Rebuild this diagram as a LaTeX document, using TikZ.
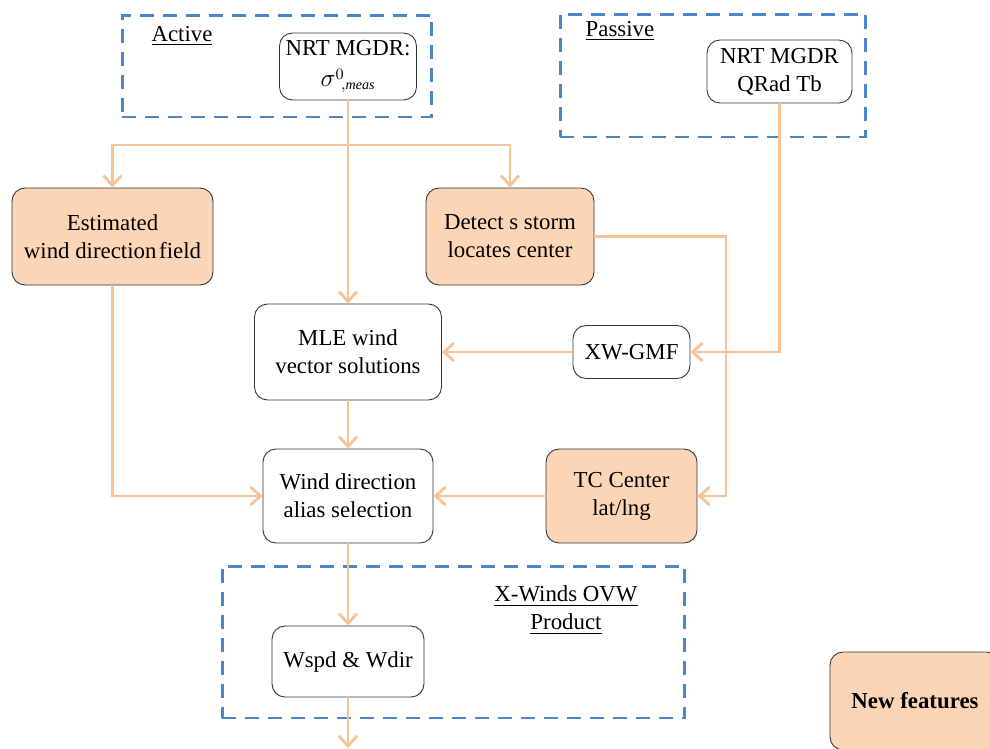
\documentclass[tikz,border=0pt]{standalone}
\usepackage{fontspec}
\setmainfont{Liberation Serif}
\usepackage{amsmath}
\usetikzlibrary{arrows,arrows.meta,positioning}
\definecolor{peachFill}{HTML}{FBD5B6}
\definecolor{peachLine}{HTML}{F8C296}
\definecolor{groupBlue}{HTML}{4A86C8}

\begin{document}
\begin{tikzpicture}
[x=0.02cm,y=-0.02cm,
box/.style={draw=black!80,line width=0.5pt,rounded corners=2.6mm,align=center,inner sep=0pt,font=\fontsize{13}{16}\selectfont},
plainBox/.style={box,fill=white},
newBox/.style={box,fill=peachFill},
groupBox/.style={draw=groupBlue,line width=1.7pt,dash pattern=on 0.28cm off 0.18cm,inner sep=0pt},
groupLabel/.style={align=center,font=\fontsize{13}{16}\selectfont},
edge/.style={draw=peachLine,line width=1.6pt},
tipEnd/.style={-{Straight Barb[length=2mm,width=3.6mm]}}]
\useasboundingbox (0,0) rectangle (990,748);
% dashed groups
\node[groupBox,minimum width=6.2cm,minimum height=2.04cm] (activeGrp) at (277,66) {};
\node[groupBox,minimum width=6.12cm,minimum height=2.46cm] (passiveGrp) at (713,75.5) {};
\node[groupBox,minimum width=9.26cm,minimum height=3.04cm] (productGrp) at (453.5,642) {};
\node[groupLabel] (activeLbl) at (182,36) {\underline{Active}};
\node[groupLabel] (passiveLbl) at (620,31) {\underline{Passive}};
\node[groupLabel] (productLbl) at (566,610) {\underline{X-Winds OVW}\\\underline{Product}};
% boxes
\node[plainBox,minimum width=2.74cm,minimum height=1.34cm] (srcAct) at (348,66.5) {NRT MGDR:\\[2pt]{\Large$\sigma$}$^{0}\!{}_{,\textit{\footnotesize meas}}$};
\node[plainBox,minimum width=2.9cm,minimum height=1.26cm] (srcPas) at (779.5,71.5) {NRT MGDR\\QRad Tb};
\node[newBox,minimum width=4.02cm,minimum height=1.94cm] (estDir) at (112.5,236.5) {Estimated\\wind direction\hspace{0.12em}field};
\node[newBox,minimum width=3.36cm,minimum height=1.94cm] (detStorm) at (510,236.5) {Detect s storm\\locates center};
\node[plainBox,minimum width=3.74cm,minimum height=1.92cm] (mle) at (348,352) {MLE wind\\vector solutions};
\node[plainBox,minimum width=2.34cm,minimum height=1.06cm] (xwGmf) at (631.5,352) {XW-GMF};
\node[plainBox,minimum width=3.4cm,minimum height=1.88cm] (aliasSel) at (348,496) {Wind direction\\alias selection};
\node[newBox,minimum width=3.02cm,minimum height=1.88cm] (tcCenter) at (621.5,496) {TC Center\\lat/lng};
\node[plainBox,minimum width=3.04cm,minimum height=1.42cm] (wspd) at (348,661.5) {Wspd \& Wdir};
\node[newBox,minimum width=3.4cm,minimum height=1.96cm,font=\fontsize{13}{16}\selectfont\bfseries] (newFeat) at (915,701) {New features};
% connectors
\coordinate (fork) at (348,145);
\coordinate (bendStorm) at (726,236.5);
\coordinate (outFlow) at (348,748);
\draw[edge,tipEnd] (srcAct) -- (mle);
\draw[edge,tipEnd] (fork) -| (estDir);
\draw[edge,tipEnd] (fork) -| (detStorm);
\draw[edge,tipEnd] (estDir) |- (aliasSel);
\draw[edge,tipEnd] (detStorm) -- (bendStorm) |- (tcCenter);
\draw[edge,tipEnd] (srcPas) |- (xwGmf);
\draw[edge,tipEnd] (xwGmf) -- (mle);
\draw[edge,tipEnd] (mle) -- (aliasSel);
\draw[edge,tipEnd] (tcCenter) -- (aliasSel);
\draw[edge,tipEnd] (aliasSel) -- (wspd);
\draw[edge,tipEnd] (wspd) -- (outFlow);
\end{tikzpicture}
\end{document}
